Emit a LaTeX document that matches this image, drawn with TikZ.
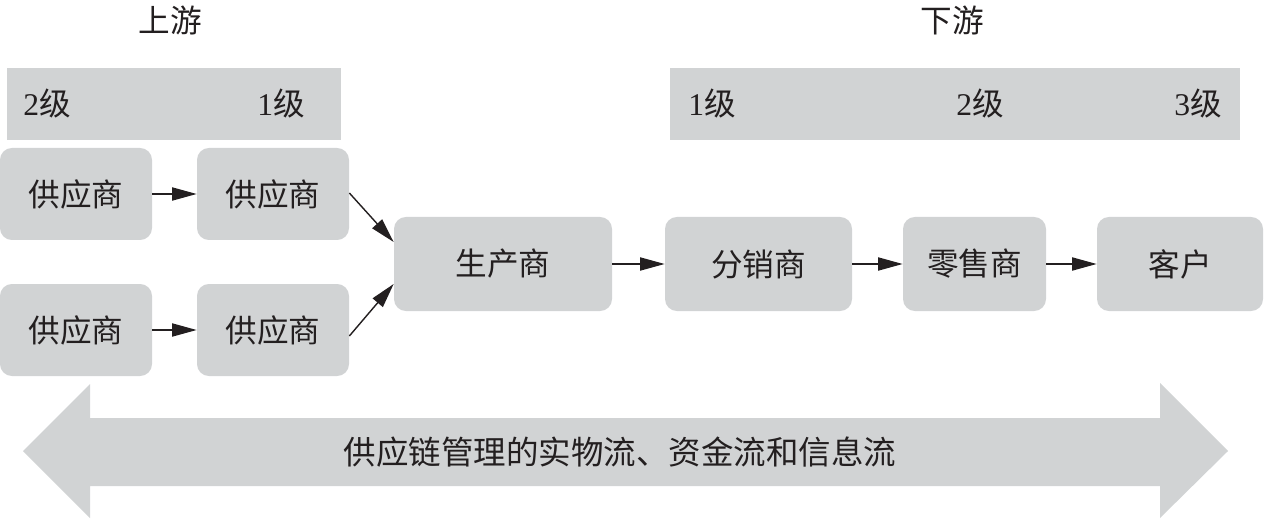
\documentclass[tikz,border=0pt]{standalone}
\usepackage{fontspec}
\setmainfont{Liberation Serif}
\newfontfamily\cjk{Noto Sans CJK SC}
\usetikzlibrary{arrows.meta,calc}
\definecolor{boxgray}{HTML}{D1D3D4}
\definecolor{ink}{HTML}{231F20}
\tikzset{
  unit/.style={rectangle, rounded corners=12pt*0.567, fill=boxgray, inner sep=0pt, text=ink, font=\fontsize{18}{20}\selectfont\cjk},
  band/.style={fill=boxgray, draw=none},
  lab/.style={inner sep=0pt, text=ink, font=\fontsize{18}{20}\selectfont},
  flow/.style={-{Triangle[length=14pt,width=7.5pt]}, line width=0.8pt, draw=ink},
}
\newcommand{\lvl}[1]{#1{\cjk 级}}
\begin{document}
\begin{tikzpicture}[x=0.02cm,y=-0.02cm]
\useasboundingbox (0,0) rectangle (1264,520);
% header labels
\node[lab, font=\fontsize{18}{20}\selectfont\cjk] (up) at (170,20) {上游};
\node[lab, font=\fontsize{18}{20}\selectfont\cjk] (down) at (952,20) {下游};
% bands
\fill[band] (7,68) rectangle (341,140);
\fill[band] (670,68) rectangle (1240,140);
\node[lab] (l2a) at (47,103) {\lvl{2}};
\node[lab] (l1a) at (281,103) {\lvl{1}};
\node[lab] (l1b) at (712,103) {\lvl{1}};
\node[lab] (l2b) at (980,103) {\lvl{2}};
\node[lab] (l3b) at (1198,103) {\lvl{3}};
% boxes
\node[unit, minimum width=152*0.02cm, minimum height=92*0.02cm] (s1) at (76,194) {供应商};
\node[unit, minimum width=152*0.02cm, minimum height=92*0.02cm] (s2) at (273,194) {供应商};
\node[unit, minimum width=152*0.02cm, minimum height=92*0.02cm] (s3) at (76,330) {供应商};
\node[unit, minimum width=152*0.02cm, minimum height=92*0.02cm] (s4) at (273,330) {供应商};
\node[unit, minimum width=218*0.02cm, minimum height=94*0.02cm] (m) at (503,264) {生产商};
\node[unit, minimum width=187*0.02cm, minimum height=94*0.02cm] (d) at (758.5,264) {分销商};
\node[unit, minimum width=143*0.02cm, minimum height=94*0.02cm] (r) at (974.5,264) {零售商};
\node[unit, minimum width=166*0.02cm, minimum height=94*0.02cm] (c) at (1180,264) {客户};
% connectors
\draw[flow] (s1.east) -- (s2.west);
\draw[flow] (s3.east) -- (s4.west);
\draw[flow] ($(s2.east)+(0,-1)$) -- ($(m.west)+(0,-22)$);
\draw[flow] ($(s4.east)+(0,6)$) -- ($(m.west)+(0,20)$);
\draw[flow] (m.east) -- (d.west);
\draw[flow] (d.east) -- (r.west);
\draw[flow] (r.east) -- (c.west);
% big double arrow
\fill[band] (23,451) -- (90,384) -- (90,418) -- (1160,418) -- (1160,383) -- (1228,451) -- (1160,518) -- (1160,486) -- (90,486) -- (90,518) -- cycle;
\node[lab, font=\fontsize{18.5}{20}\selectfont\cjk] (flowtxt) at (620,452) {供应链管理的实物流、资金流和信息流};
\end{tikzpicture}
\end{document}
